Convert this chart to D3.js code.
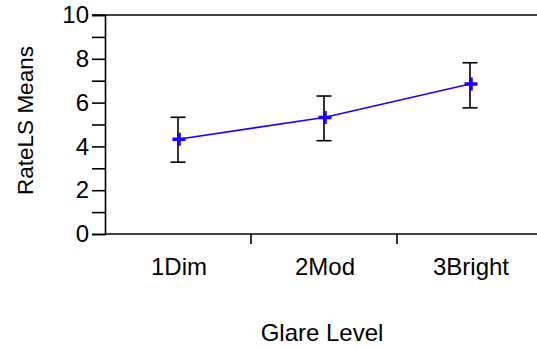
<!DOCTYPE html>
<html>
<head>
<meta charset="utf-8">
<script src="https://cdn.jsdelivr.net/npm/d3@7"></script>
<style>
  body { margin: 0; background: #fff; }
  svg { display: block; font-family: "Liberation Sans", Arial, sans-serif; }
</style>
</head>
<body>
<svg id="chart"></svg>
<script>
// glare levels and the LS means with their error bars
const categories = ["1Dim", "2Mod", "3Bright"]
const means = [4.33, 5.32, 6.85]
const lower = [3.28, 4.26, 5.76]
const upper = [5.33, 6.30, 7.82]
const yTicks = [0, 1, 2, 3, 4, 5, 6, 7, 8, 9, 10]

width = 537
height = 350
margin = ({top: 15, right: -6, bottom: 116, left: 105})
const fs = 24

const data = categories.map((c, i) => ({cat: c, mean: means[i], lo: lower[i], hi: upper[i]}))

x = d3.scaleBand()
  .domain(categories)
  .range([margin.left, width - margin.right])

y = d3.scaleLinear()
  .domain([0, 10])
  .range([height - margin.bottom, margin.top])

const cx = d => x(d.cat) + x.bandwidth() / 2

const svg = d3.select("#chart")
  .attr("width", width)
  .attr("height", height)

// y axis
svg.append("g")
  .attr("transform", `translate(${margin.left},0)`)
  .call(d3.axisLeft(y).tickValues(yTicks).tickSize(13).tickPadding(3)
    .tickFormat(d => d % 2 === 0 ? d : ""))
  .call(g => g.select(".domain").attr("stroke-width", 1.6))
  .call(g => g.selectAll(".tick line").attr("stroke-width", 1.6))
  .call(g => g.selectAll(".tick text").attr("font-size", fs).attr("fill", "#000").attr("font-family", null))

// top frame line
svg.append("line")
  .attr("x1", margin.left - 13).attr("x2", width)
  .attr("y1", y(10)).attr("y2", y(10))
  .attr("stroke", "#000").attr("stroke-width", 1.6)

// x axis
svg.append("line")
  .attr("x1", margin.left).attr("x2", width)
  .attr("y1", y(0)).attr("y2", y(0))
  .attr("stroke", "#000").attr("stroke-width", 1.6)

svg.append("g").selectAll("line")
  .data(categories.slice(1))
  .join("line")
  .attr("x1", d => x(d)).attr("x2", d => x(d))
  .attr("y1", y(0)).attr("y2", y(0) + 10)
  .attr("stroke", "#000").attr("stroke-width", 1.6)

svg.append("g").selectAll("text")
  .data(categories)
  .join("text")
  .attr("x", d => x(d) + x.bandwidth() / 2 + 1)
  .attr("y", 275)
  .attr("text-anchor", "middle")
  .attr("font-size", fs)
  .text(d => d)

// axis titles
svg.append("text")
  .attr("x", 322)
  .attr("y", 341)
  .attr("text-anchor", "middle")
  .attr("font-size", fs)
  .text("Glare Level")

svg.append("text")
  .attr("transform", `translate(33,${(y(0) + y(10)) / 2 - 4}) rotate(-90)`)
  .attr("text-anchor", "middle")
  .attr("font-size", 22.5)
  .text("RateLS Means")

// error bars
const eb = svg.append("g").attr("stroke", "#000").attr("stroke-width", 1.6)
eb.selectAll(".stem")
  .data(data).join("line")
  .attr("x1", cx).attr("x2", cx)
  .attr("y1", d => y(d.lo)).attr("y2", d => y(d.hi))
eb.selectAll(".caplo")
  .data(data).join("line")
  .attr("x1", d => cx(d) - 7.5).attr("x2", d => cx(d) + 7.5)
  .attr("y1", d => y(d.lo)).attr("y2", d => y(d.lo))
eb.selectAll(".caphi")
  .data(data).join("line")
  .attr("x1", d => cx(d) - 7.5).attr("x2", d => cx(d) + 7.5)
  .attr("y1", d => y(d.hi)).attr("y2", d => y(d.hi))

// mean line
line = d3.line()
  .x(cx)
  .y(d => y(d.mean))

svg.append("path")
  .datum(data)
  .attr("fill", "none")
  .attr("stroke", "#1a00ff")
  .attr("stroke-width", 1.6)
  .attr("d", line)

// plus markers
svg.append("g").selectAll("path")
  .data(data).join("path")
  .attr("transform", d => `translate(${cx(d) + 1},${y(d.mean)})`)
  .attr("d", "M-6.5,0H6.5M0,-6.5V6.5")
  .attr("stroke", "#1a00ff")
  .attr("stroke-width", 3.5)
</script>
</body>
</html>
